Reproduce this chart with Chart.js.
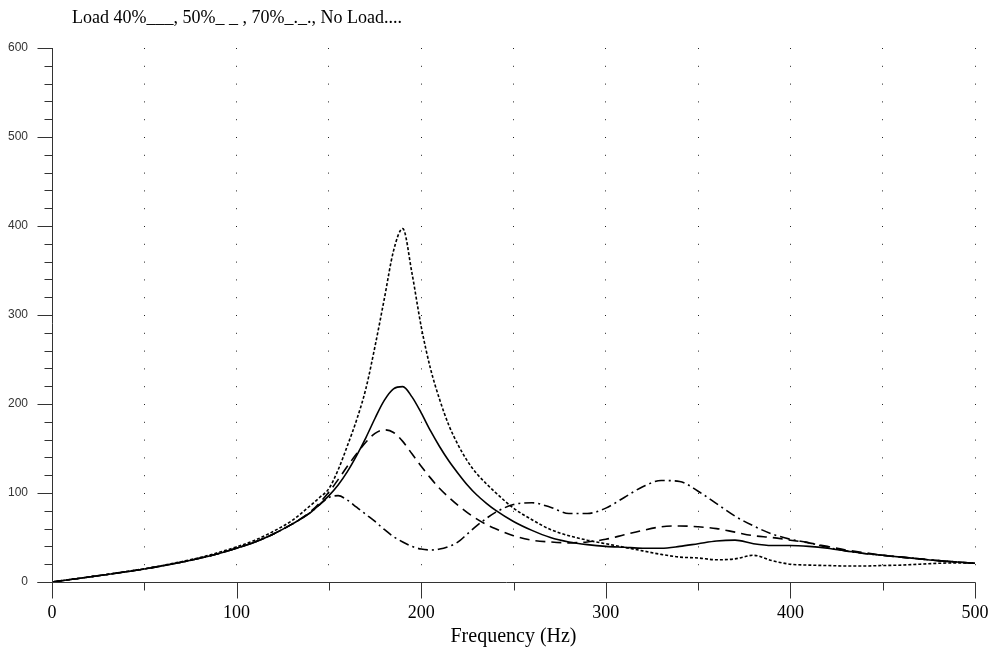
<!DOCTYPE html>
<html>
<head>
<meta charset="utf-8">
<script src="https://cdn.jsdelivr.net/npm/chart.js@4"></script>
<style>
  body { margin: 0; background: #fff; }
  #wrap { position: relative; width: 990px; height: 655px; }
  #title {
    position: absolute; left: 72px; top: 6px;
    font: 18px "Liberation Serif", serif; line-height: 22px; color: #000;
    white-space: pre;
  }
</style>
</head>
<body>
<div id="wrap">
  <canvas id="resp_Chart" width="990" height="655"></canvas>
  <div id="title">Load 40%___, 50%_ _ , 70%_._., No Load....</div>
</div>
<script>
// frequency samples (Hz)
const freq = [0, 10, 20, 30, 40, 50, 60, 70, 80, 90, 100, 110, 120, 130,
  140, 145, 150, 155, 160, 165, 170, 175, 180, 185, 190, 195, 200, 205, 210, 215, 220, 225, 230, 235, 240,
  250, 260, 270, 280, 290, 300, 310, 320, 330, 340, 350, 360, 370, 380, 390, 400,
  410, 420, 430, 440, 450, 460, 470, 480, 490, 500];

const load40 = [0, 2.8, 5.6, 8.5, 11.5, 14.6, 18.2, 22.2, 26.6, 31.8, 38, 45, 54, 65,
  78, 87, 97, 109, 124, 142, 162, 184, 204, 217, 219.5, 208, 190, 170, 152, 136, 122, 109, 98, 89, 81,
  68, 58, 50, 45, 42, 40, 39, 38, 38, 40, 43, 46, 47, 43, 41, 41,
  40, 38, 35, 32, 30, 28, 26, 24, 22.5, 21];

const load50 = [0, 2.8, 5.6, 8.5, 11.5, 14.6, 18.2, 22.2, 26.6, 31.8, 38, 45, 54, 65,
  79, 89, 101, 115, 130, 144, 157, 167, 171, 168, 158, 144, 130, 117, 105, 95, 86, 78, 71, 65, 60,
  52, 47, 45, 44, 45, 48, 53, 58, 62, 63, 62, 60, 56, 52, 50, 47,
  44, 40, 36, 33, 30, 28, 26, 24, 22.5, 21];

const load70 = [0, 2.8, 5.6, 8.5, 11.5, 14.6, 18.2, 22.2, 26.6, 31.8, 38, 45, 54, 65,
  78, 87, 95, 97, 92, 84, 76, 68, 59, 51, 45, 40, 37, 36, 37, 40, 45, 54, 63, 71, 78,
  87, 89, 84, 77, 77, 83, 95, 107, 114, 113, 102, 88, 74, 63, 54, 48,
  44, 39, 35, 32, 30, 28, 26, 24, 22.5, 21];

const noLoad = [0, 2.8, 5.7, 8.6, 11.7, 14.9, 18.6, 22.8, 27.4, 33, 39.5, 47, 57, 69,
  86, 95, 105, 126, 153, 182, 217, 265, 318, 372, 397, 347, 287, 240, 205, 176, 154, 136, 122, 111, 101,
  83, 70, 59, 52, 47, 43, 39, 35, 31, 28, 27, 25, 26, 30, 24, 20,
  19, 18.5, 18, 18, 18.5, 19, 20, 21, 21.5, 21];

const yTicks = [0, 100, 200, 300, 400, 500, 600];
const xTicks = [0, 100, 200, 300, 400, 500];

function pts(arr) {
    return freq.map((f, i) => ({ x: f, y: arr[i] }));
}

// axis lines + long/short tick marks
const axisPlugin = {
    id: 'axisPlugin',
    afterDraw(chart) {
        const c = chart.ctx;
        const xs = chart.scales.x, ys = chart.scales.y;
        const x0 = Math.round(xs.getPixelForValue(0)) + 0.5;
        const y0 = Math.round(ys.getPixelForValue(0)) + 0.5;
        c.save();
        c.strokeStyle = '#333';
        c.lineWidth = 1;
        c.beginPath();
        c.moveTo(x0 - 15, y0);
        c.lineTo(Math.round(xs.getPixelForValue(500)) + 0.5, y0);
        c.moveTo(x0, Math.round(ys.getPixelForValue(600)));
        c.lineTo(x0, y0 + 16);
        for (let v = 0; v <= 600; v += 20) {
            const py = Math.round(ys.getPixelForValue(v)) + 0.5;
            c.moveTo(x0 - (v % 100 === 0 ? 15 : 8), py);
            c.lineTo(x0, py);
        }
        for (let v = 50; v <= 500; v += 50) {
            const px = Math.round(xs.getPixelForValue(v)) + 0.5;
            c.moveTo(px, y0);
            c.lineTo(px, y0 + (v % 100 === 0 ? 16 : 8));
        }
        c.stroke();
        c.restore();
    }
};

const ctx = document.getElementById('resp_Chart');

new Chart(ctx, {
    type: 'line',
    data: {
        datasets: [
            { label: 'Load 40%', data: pts(load40), borderColor: '#000', borderDash: [] },
            { label: '50%', data: pts(load50), borderColor: '#000', borderDash: [10, 6] },
            { label: '70%', data: pts(load70), borderColor: '#000', borderDash: [10, 4, 2, 4] },
            { label: 'No Load', data: pts(noLoad), borderColor: '#000', borderDash: [3, 2] }
        ]
    },
    options: {
        responsive: false,
        animation: false,
        layout: { padding: { top: 48, right: 15, bottom: 0, left: 0 } },
        datasets: {
            line: {
                borderWidth: 1.6,
                pointRadius: 0,
                fill: false,
                cubicInterpolationMode: 'monotone'
            }
        },
        plugins: {
            legend: { display: false },
            tooltip: { enabled: false }
        },
        scales: {
            x: {
                type: 'linear',
                min: 0,
                max: 500,
                afterFit(s) { s.height = 73; s.paddingLeft = 0; s.paddingRight = 0; },
                afterBuildTicks(s) {
                    s.ticks = [];
                    for (let v = 0; v <= 500; v += 50) s.ticks.push({ value: v });
                },
                ticks: {
                    padding: 20,
                    color: '#000',
                    font: { family: 'Liberation Serif', size: 18 },
                    maxRotation: 0,
                    autoSkip: false,
                    callback: v => xTicks.includes(v) ? String(v) : ''
                },
                grid: {
                    drawTicks: false,
                    color: ctx => (ctx.tick && ctx.tick.value > 0) ? '#222' : 'rgba(0,0,0,0)',
                    lineWidth: 1
                },
                border: { display: false, dash: [1, 16.8] },
                title: {
                    display: true,
                    text: 'Frequency (Hz)',
                    color: '#000',
                    font: { family: 'Liberation Serif', size: 20 },
                    padding: { top: 0, bottom: 6 }
                }
            },
            y: {
                min: 0,
                max: 600,
                afterFit(s) { s.width = 52; s.paddingTop = 0; s.paddingBottom = 0; },
                afterBuildTicks(s) { s.ticks = yTicks.map(v => ({ value: v })); },
                ticks: {
                    padding: 24,
                    color: '#333',
                    font: { family: 'Liberation Sans', size: 12 }
                },
                grid: { display: false, drawTicks: false },
                border: { display: false }
            }
        }
    },
    plugins: [axisPlugin]
});
</script>
</body>
</html>
